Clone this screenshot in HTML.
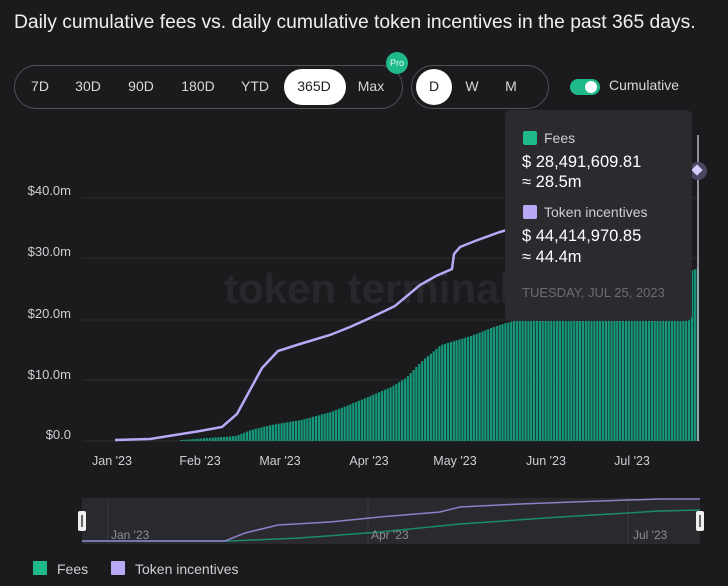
<!DOCTYPE html>
<html><head><meta charset="utf-8"><style>
body{margin:0;width:728px;height:586px;background:#1b1a1d;font-family:"Liberation Sans",sans-serif;color:#e8e8ea;overflow:hidden;position:relative}
.t{position:absolute;left:14px;top:12px;font-size:19.3px;color:#f0f0f0}
.pill{position:absolute;border:1px solid #505055;border-radius:22px;height:42px;top:65px}
.b{position:absolute;top:86px;font-size:14px;color:#d8d8d8;transform:translate(-50%,-50%)}
.sel{position:absolute;background:#fff;border-radius:20px;top:69px;height:36px}
.tip{position:absolute;left:505px;top:110px;width:187px;height:211px;background:#2b2a2f;border-radius:6px}
.sq{display:inline-block;width:14px;height:14px;border-radius:2px;vertical-align:-2px;margin-right:7px}
</style></head><body>
<div class="t">Daily cumulative fees vs. daily cumulative token incentives in the past 365 days.</div>
<div class="pill" style="left:14px;width:387px"></div>
<div class="sel" style="left:284px;width:62px"></div>
<div class="b" style="left:40px">7D</div><div class="b" style="left:88px">30D</div><div class="b" style="left:141px">90D</div><div class="b" style="left:198px">180D</div><div class="b" style="left:255px">YTD</div><div class="b" style="left:314px;color:#222">365D</div><div class="b" style="left:371px">Max</div>
<div style="position:absolute;left:386px;top:52px;width:22px;height:22px;border-radius:11px;background:#1fb98a;color:#eafff5;font-size:9px;text-align:center;line-height:22px">Pro</div>
<div class="pill" style="left:411px;width:136px"></div>
<div class="sel" style="left:416px;width:36px"></div>
<div class="b" style="left:434px;color:#222">D</div><div class="b" style="left:472px">W</div><div class="b" style="left:511px">M</div>
<div style="position:absolute;left:570px;top:79px;width:30px;height:16px;border-radius:8px;background:#1fb98a"></div>
<div style="position:absolute;left:585px;top:81px;width:12px;height:12px;border-radius:6px;background:#fff"></div>
<div class="b" style="left:644px;top:85px">Cumulative</div>
<svg width="728" height="586" style="position:absolute;left:0;top:0" id="s">
<g stroke="#2e2d31" stroke-width="1"><line x1="82" x2="700" y1="198" y2="198"/><line x1="82" x2="700" y1="258" y2="258"/><line x1="82" x2="700" y1="320" y2="320"/><line x1="82" x2="700" y1="380" y2="380"/><line x1="82" x2="700" y1="441" y2="441"/></g>
<g fill="#cfcfd2" font-size="13" text-anchor="end"><text x="71" y="195">$40.0m</text><text x="71" y="256">$30.0m</text><text x="71" y="318">$20.0m</text><text x="71" y="379">$10.0m</text><text x="71" y="439">$0.0</text></g>
<text x="224" y="303" font-size="42" font-weight="bold" fill="#28272b">token terminal</text>
<g fill="#cfcfd2" font-size="12.5" text-anchor="middle"><text x="112" y="465">Jan '23</text><text x="200" y="465">Feb '23</text><text x="280" y="465">Mar '23</text><text x="369" y="465">Apr '23</text><text x="455" y="465">May '23</text><text x="546" y="465">Jun '23</text><text x="632" y="465">Jul '23</text></g>
<g id="bars" fill="#16987a"></g>
<polyline fill="none" stroke="#b9a8f5" stroke-width="2.5" points="115,440 150,439 175,435 200,431 222,427 237,414 250,390 262,368 278,351 300,344 330,335 350,327 370,318 395,306 420,285 436,276 452,269 454,254 460,247 475,241 500,232 520,226 560,218 600,206 640,196 680,184 698,171"/>
<line x1="698" x2="698" y1="135" y2="441" stroke="#b9b6c5" stroke-width="1.5"/>
<circle cx="698" cy="171" r="9" fill="#4a4660"/>
<rect x="693" y="166" width="8" height="8" fill="#d7ccff" transform="rotate(45 697 170)"/>
<rect x="82" y="498" width="618" height="46" fill="#2a292d"/>
<g stroke="#3a393d"><line x1="108" x2="108" y1="498" y2="544"/><line x1="368" x2="368" y1="498" y2="544"/><line x1="628" x2="628" y1="498" y2="544"/></g>
<polyline fill="none" stroke="#1a8a6e" stroke-width="1.5" points="82,541 230,541 300,538 380,532 460,524 560,517 660,511 700,510"/>
<polyline fill="none" stroke="#8d80c8" stroke-width="1.5" points="82,541 225,541 245,533 278,525 330,522 380,517 440,512 460,507 520,504 600,501 660,499 700,499"/>
<g fill="#8d8d92" font-size="12"><text x="111" y="539">Jan '23</text><text x="371" y="539">Apr '23</text><text x="633" y="539">Jul '23</text></g>
<rect x="78" y="511" width="8" height="20" rx="2" fill="#eee"/><rect x="81" y="515" width="2" height="12" fill="#666"/>
<rect x="696" y="511" width="8" height="20" rx="2" fill="#eee"/><rect x="699" y="515" width="2" height="12" fill="#666"/>
<rect x="33" y="561" width="14" height="14" fill="#1fb98a" rx="1"/><text x="57" y="574" font-size="14" fill="#cfcfd2">Fees</text>
<rect x="111" y="561" width="14" height="14" fill="#b9a8f5" rx="1"/><text x="135" y="574" font-size="14" fill="#cfcfd2">Token incentives</text>
</svg>
<div class="tip">
<div style="position:absolute;left:18px;top:20px;font-size:14px;color:#cfcfd2"><span class="sq" style="background:#1fb98a"></span>Fees</div>
<div style="position:absolute;left:17px;top:43px;font-size:16.5px;color:#fff">$ 28,491,609.81</div>
<div style="position:absolute;left:17px;top:63px;font-size:16.5px;color:#fff">≈ 28.5m</div>
<div style="position:absolute;left:18px;top:94px;font-size:14px;color:#cfcfd2"><span class="sq" style="background:#b9a8f5"></span>Token incentives</div>
<div style="position:absolute;left:17px;top:117px;font-size:16.5px;color:#fff">$ 44,414,970.85</div>
<div style="position:absolute;left:17px;top:138px;font-size:16.5px;color:#fff">≈ 44.4m</div>
<div style="position:absolute;left:17px;top:175px;font-size:13px;color:#6c6b72">TUESDAY, JUL 25, 2023</div>
</div>
<script>
var pts=[[180,440],[235,436],[250,430],[270,425],[300,420],[330,412],[360,400],[390,387],[405,378],[420,362],[440,345],[470,336],[490,328],[505,323],[600,300],[698,268]];
function f(x){for(var i=0;i<pts.length-1;i++){var a=pts[i],b=pts[i+1];if(x<=b[0])return a[1]+(b[1]-a[1])*(x-a[0])/(b[0]-a[0]);}return 268;}
var g=document.getElementById('bars'),h='';
for(var x=180;x<=699;x+=2.87){var y=f(x);h+='<rect x="'+x.toFixed(1)+'" y="'+y.toFixed(1)+'" width="2.2" height="'+(441-y).toFixed(1)+'"/>';}
g.innerHTML=h;
</script>
</body></html>
